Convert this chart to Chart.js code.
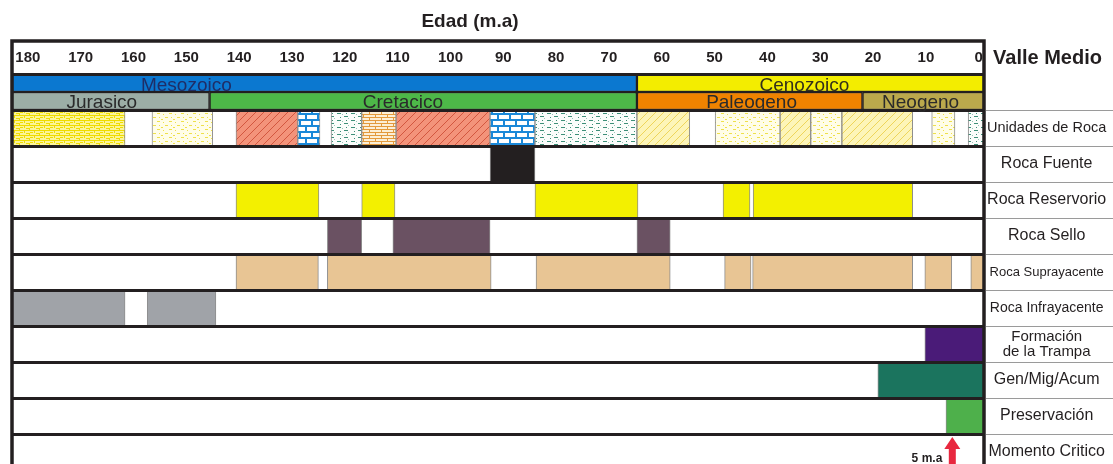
<!DOCTYPE html>
<html>
<head>
<meta charset="utf-8">
<script src="https://cdn.jsdelivr.net/npm/chart.js@4.4.1/dist/chart.umd.min.js"></script>
<style>
  html, body { margin: 0; background: #fff; overflow: hidden; }
</style>
</head>
<body>
<canvas id="sistema-petrolero" width="1113" height="470"></canvas>
<script>
// Eje de edad (m.a)
const edadTicks = [180, 170, 160, 150, 140, 130, 120, 110, 100, 90, 80, 70, 60, 50, 40, 30, 20, 10, 0];

// Eras y periodos [inicio, fin] en m.a
const eras = ['Mesozoico', 'Cenozoico'];
const erasRango = [[183, 64.7], [64.7, -1]];
const erasEtiqueta = [150, 33];
const periodos = ['Jurasico', 'Cretacico', 'Paleogeno', 'Neogeno'];
const periodosRango = [[183, 145.6], [145.6, 64.7], [64.7, 22], [22, -1]];
const periodosEtiqueta = [166, 109, 43, 11];

// Unidades de roca
const unidadesRango = [[183, 161.6], [156.5, 145.0], [140.6, 128.9], [128.9, 124.7], [122.6, 116.8],
  [116.8, 110.3], [110.3, 92.5], [92.5, 84.0], [84.0, 64.7], [64.7, 54.7], [49.9, 37.6],
  [37.6, 31.8], [31.8, 25.9], [25.9, 12.5], [8.9, 4.5], [2.0, -1]];
const unidadesLito = ['limolita', 'arenisca', 'arcillaRoja', 'caliza', 'lutita',
  'dolomita', 'arcillaRoja', 'caliza', 'lutita', 'rayadoAmarillo', 'arenisca',
  'rayadoAmarillo', 'arenisca', 'rayadoAmarillo', 'arenisca', 'lutita'];

// Elementos y procesos del sistema petrolero
const filas = ['Era', 'Unidades de Roca', 'Roca Fuente', 'Roca Reservorio', 'Roca Sello',
  'Roca Suprayacente', 'Roca Infrayacente', 'Formación\nde la Trampa', 'Gen/Mig/Acum',
  'Preservación', 'Momento Critico'];
const rocaFuente = [[92.5, 84.0]];
const rocaReservorio = [[140.6, 124.9], [116.8, 110.5], [84.0, 64.5], [48.4, 43.3], [42.7, 12.5]];
const rocaSello = [[123.3, 116.8], [110.9, 92.5], [64.7, 58.4]];
const rocaSuprayacente = [[140.6, 125.0], [123.3, 92.3], [83.8, 58.4], [48.1, 43.1], [42.8, 12.5], [10.2, 5.1], [1.5, -1]];
const rocaInfrayacente = [[183, 161.6], [157.4, 144.4]];
const formacionTrampa = [[10.2, -1]];
const genMigAcum = [[19.1, -1]];
const preservacion = [[6.2, -1]];
const momentoCritico = 5;

const FUENTE = '"Liberation Sans", Arial, sans-serif';
const NEGRO = '#231f20';
Chart.defaults.font.family = FUENTE;

// Tramas de litologia
function hacerPatron(w, h, fondo, dibujar) {
  const c = document.createElement('canvas');
  c.width = w;
  c.height = h;
  const g = c.getContext('2d');
  g.fillStyle = fondo;
  g.fillRect(0, 0, w, h);
  dibujar(g);
  return g.createPattern(c, 'repeat');
}
function rayado(color) {
  return g => {
    g.strokeStyle = color;
    g.lineWidth = 1;
    g.beginPath();
    g.moveTo(-1, 9); g.lineTo(9, -1);
    g.moveTo(-1, 1); g.lineTo(1, -1);
    g.moveTo(7, 9); g.lineTo(9, 7);
    g.stroke();
  };
}
const patrones = {
  limolita: hacerPatron(10, 5, '#fbf49a', g => {
    g.fillStyle = '#efdc00';
    g.fillRect(0, 0, 10, 1); g.fillRect(4, 1, 1, 2); g.fillRect(0, 2, 3, 1);
    g.fillRect(6, 3, 3, 1); g.fillRect(9, 3, 1, 2);
  }),
  arenisca: hacerPatron(12, 8, '#fffde8', g => {
    g.fillStyle = '#efe04a';
    g.fillRect(1, 1, 3, 1); g.fillRect(7, 2, 1, 1); g.fillRect(9, 5, 3, 1);
    g.fillRect(3, 5, 1, 1); g.fillRect(5, 7, 2, 1);
  }),
  arcillaRoja: hacerPatron(8, 8, '#f3937a', rayado('#d2573f')),
  caliza: hacerPatron(12, 12, '#1a88d8', g => {
    g.fillStyle = '#ffffff';
    g.fillRect(1, 1, 10, 4); g.fillRect(-5, 7, 10, 4); g.fillRect(7, 7, 10, 4);
  }),
  lutita: hacerPatron(14, 7, '#fbfdfb', g => {
    g.fillStyle = '#3d8f78';
    g.fillRect(1, 1, 4, 1); g.fillRect(8, 4, 4, 1); g.fillRect(10, 1, 1, 1); g.fillRect(4, 5, 1, 1);
    g.fillStyle = '#9cc8bb';
    g.fillRect(6, 2, 1, 1); g.fillRect(12, 6, 1, 1);
  }),
  dolomita: hacerPatron(12, 6, '#fcefd6', g => {
    g.fillStyle = '#e39a3c';
    g.fillRect(0, 0, 12, 1); g.fillRect(0, 3, 12, 1); g.fillRect(3, 1, 1, 2); g.fillRect(9, 4, 1, 2);
  }),
  rayadoAmarillo: hacerPatron(8, 8, '#fdf5b8', rayado('#eed55a'))
};

// Una serie por fila: barras flotantes [inicio, fin]
function serie(fila, rangos, color, extra) {
  return Object.assign({
    label: fila,
    data: rangos.map(r => ({ x: r, y: fila })),
    backgroundColor: color,
    borderColor: '#8d8d8d',
    borderWidth: 1,
    borderSkipped: false,
    grouped: false,
    stack: 'arriba',
    barPercentage: 1,
    categoryPercentage: 1
  }, extra);
}

const datasets = [
  serie('Era', erasRango, ['#0b78d0', '#f3ed00'], { grouped: true, borderColor: NEGRO, borderWidth: 1.5 }),
  serie('Era', periodosRango, ['#9caea6', '#4db848', '#f08300', '#bba94c'],
    { grouped: true, stack: 'abajo', borderColor: NEGRO, borderWidth: 1.5 }),
  serie('Unidades de Roca', unidadesRango, unidadesLito.map(l => patrones[l])),
  serie('Roca Fuente', rocaFuente, NEGRO),
  serie('Roca Reservorio', rocaReservorio, '#f3f000'),
  serie('Roca Sello', rocaSello, '#6a5162'),
  serie('Roca Suprayacente', rocaSuprayacente, '#e8c594'),
  serie('Roca Infrayacente', rocaInfrayacente, '#a0a3a8'),
  serie('Formación\nde la Trampa', formacionTrampa, '#4a1b78'),
  serie('Gen/Mig/Acum', genMigAcum, '#1b745e'),
  serie('Preservación', preservacion, '#4eb04b')
];

const tamEtiqueta = [16, 14.5, 16, 16, 16, 13, 14, 15, 16, 16, 16];

// Textos, marco y flecha del momento critico
const decoraciones = {
  id: 'decoraciones',
  afterDraw(chart) {
    const ctx = chart.ctx;
    const area = chart.chartArea;
    const xs = chart.scales.x;
    const ys = chart.scales.y;
    const paso = ys.getPixelForValue(1) - ys.getPixelForValue(0);
    ctx.save();

    // nombres de eras y periodos
    const filaEra = ys.getPixelForValue(0);
    ctx.font = '19px ' + FUENTE;
    ctx.textAlign = 'center';
    ctx.textBaseline = 'middle';
    eras.forEach((n, i) => {
      ctx.fillStyle = i === 0 ? '#1f2d66' : '#33301a';
      ctx.fillText(n, xs.getPixelForValue(erasEtiqueta[i]), filaEra - paso / 4 + 3);
    });
    periodos.forEach((n, i) => {
      ctx.fillStyle = '#2b2b2b';
      ctx.fillText(n, xs.getPixelForValue(periodosEtiqueta[i]), filaEra + paso / 4 + 2);
    });

    // separadores de la columna de etiquetas
    ctx.strokeStyle = '#9a9a9a';
    ctx.lineWidth = 1;
    for (let i = 1; i < filas.length; i++) {
      const y = Math.round(ys.getPixelForValue(i) - paso / 2) + 0.5;
      ctx.beginPath();
      ctx.moveTo(area.right + 2, y);
      ctx.lineTo(chart.width, y);
      ctx.stroke();
    }

    // marco
    ctx.strokeStyle = NEGRO;
    ctx.lineWidth = 3.5;
    ctx.beginPath();
    ctx.moveTo(area.left, chart.height + 5);
    ctx.lineTo(area.left, xs.top);
    ctx.lineTo(area.right, xs.top);
    ctx.lineTo(area.right, chart.height + 5);
    ctx.stroke();

    // titulos
    ctx.fillStyle = NEGRO;
    ctx.font = 'bold 19px ' + FUENTE;
    ctx.fillText('Edad (m.a)', (area.left + area.right) / 2 - 28, 22);
    ctx.font = 'bold 20px ' + FUENTE;
    ctx.fillText('Valle Medio', (area.right + chart.width) / 2 - 1, (xs.top + xs.bottom) / 2 + 1);

    // momento critico
    const ax = xs.getPixelForValue(momentoCritico);
    const punta = ys.getPixelForValue(filas.length - 1) - paso / 2 + 3;
    ctx.fillStyle = '#e8283f';
    ctx.beginPath();
    ctx.moveTo(ax, punta);
    ctx.lineTo(ax + 8, punta + 12);
    ctx.lineTo(ax + 3.5, punta + 12);
    ctx.lineTo(ax + 3.5, chart.height);
    ctx.lineTo(ax - 3.5, chart.height);
    ctx.lineTo(ax - 3.5, punta + 12);
    ctx.lineTo(ax - 8, punta + 12);
    ctx.closePath();
    ctx.fill();
    ctx.fillStyle = NEGRO;
    ctx.font = 'bold 12px ' + FUENTE;
    ctx.textAlign = 'right';
    ctx.fillText('5 m.a', ax - 10, punta + 22);
    ctx.restore();
  }
};

new Chart(document.getElementById('sistema-petrolero'), {
  type: 'bar',
  data: { labels: filas, datasets },
  options: {
    indexAxis: 'y',
    responsive: false,
    animation: false,
    devicePixelRatio: 1,
    layout: { padding: { left: 12, top: 41, right: 0, bottom: 0 } },
    plugins: { legend: { display: false }, tooltip: { enabled: false } },
    scales: {
      x: {
        type: 'linear',
        position: 'top',
        reverse: true,
        min: -1,
        max: 183,
        stacked: false,
        afterBuildTicks: s => { s.ticks = edadTicks.map(v => ({ value: v })); },
        afterFit: s => { s.height = 33; },
        grid: { display: false, drawTicks: false },
        border: { display: false },
        ticks: {
          autoSkip: false,
          maxRotation: 0,
          padding: 7,
          color: NEGRO,
          font: { size: 15, weight: 'bold' }
        }
      },
      y: {
        type: 'category',
        position: 'right',
        labels: filas,
        afterFit: s => { s.width = 129; s.paddingTop = 0; s.paddingBottom = 0; },
        grid: { offset: true, color: NEGRO, lineWidth: 3, drawTicks: false, z: 1 },
        border: { display: false },
        ticks: {
          crossAlign: 'center',
          padding: 3,
          color: NEGRO,
          font: c => ({ size: tamEtiqueta[c.index] || 16, lineHeight: 1.0 }),
          callback: (v, i) => i === 0 ? '' : filas[i].split('\n')
        }
      }
    }
  },
  plugins: [decoraciones]
});
</script>
</body>
</html>
